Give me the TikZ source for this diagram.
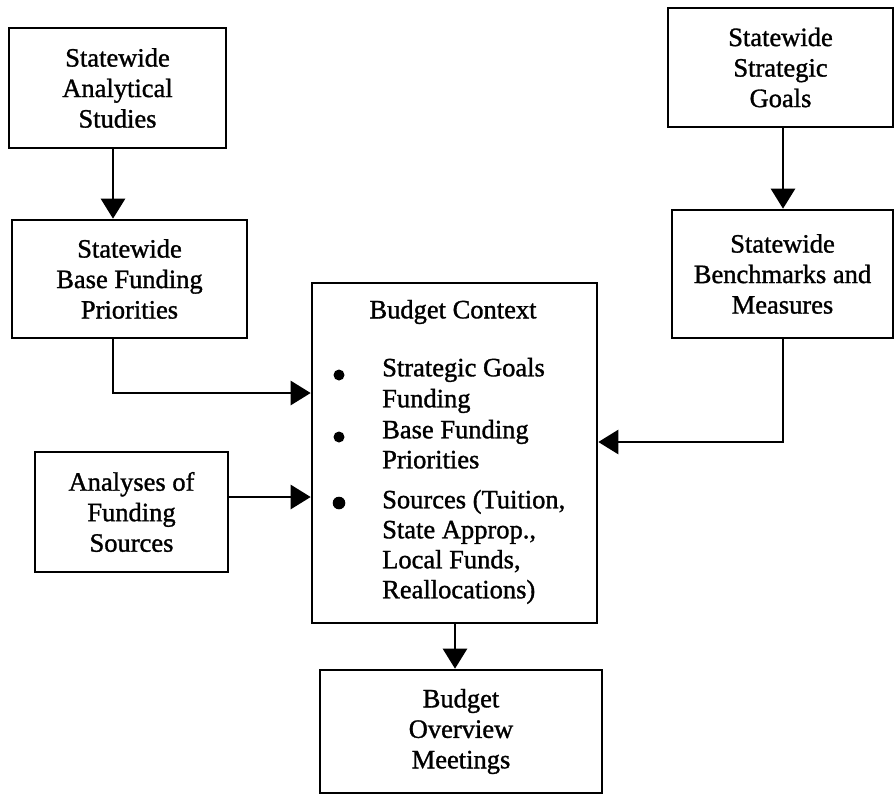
\documentclass[tikz,border=0pt]{standalone}
\usepackage{fontspec}
\setmainfont{Liberation Serif}[FakeBold=1.2]
\usetikzlibrary{arrows.meta}
\begin{document}
\begin{tikzpicture}[x=1pt,y=-1pt,
  box/.style={draw,line width=2.6pt,align=center,inner sep=0pt,
    font=\fontsize{26.5}{30.5}\selectfont},
  txt/.style={inner sep=0pt,anchor=mid west,font=\fontsize{26.5}{30.5}\selectfont},
  arr/.style={line width=2.6pt,-{Triangle[length=20pt,width=24pt]}}]
\useasboundingbox[fill=white] (0,0) rectangle (895,796);

% boxes
\node[box,minimum width=217pt,minimum height=120pt] (sas) at (117.5,88) {Statewide\\Analytical\\Studies};
\node[box,minimum width=235pt,minimum height=118pt] (sbfp) at (129.5,279) {Statewide\\Base Funding\\Priorities};
\node[box,minimum width=225pt,minimum height=119pt] (ssg) at (780.5,67.5) {Statewide\\Strategic\\Goals};
\node[box,minimum width=221pt,minimum height=128pt] (sbm) at (782.5,274) {Statewide\\Benchmarks and\\Measures};
\node[box,minimum width=193pt,minimum height=120pt] (afs) at (131.5,512) {Analyses of\\Funding\\Sources};
\node[box,minimum width=285pt,minimum height=340pt] (ctx) at (454.5,453) {};
\node[box,minimum width=282pt,minimum height=123pt] (bom) at (461,731.5) {Budget\\Overview\\Meetings};

% contents of the budget context box
\node[inner sep=0pt,font=\fontsize{26.5}{30.5}\selectfont] (ctxtitle) at (453,312) {Budget Context};
\fill (339,375) circle (5.5pt) coordinate (bul1);
\fill (339,437) circle (5.5pt) coordinate (bul2);
\fill (339,503) circle (6.3pt) coordinate (bul3);
\node[txt] (l1) at (382,374) {Strategic Goals};
\node[txt] (l2) at (382,405) {Funding};
\node[txt] (l3) at (382,436) {Base Funding};
\node[txt] (l4) at (382,466) {Priorities};
\node[txt] (l5) at (382,506) {Sources (Tuition,};
\node[txt] (l6) at (382,536) {State Approp.,};
\node[txt] (l7) at (382,566) {Local Funds,};
\node[txt] (l8) at (382,596) {Reallocations)};

% routing columns and rows
\coordinate (colA) at (113,0);
\coordinate (colB) at (783,0);
\coordinate (colC) at (455,0);
\coordinate (rowA) at (0,393);
\coordinate (rowB) at (0,497);
\coordinate (rowC) at (0,442);

% connectors
\draw[arr] (colA |- sas.south) -- (colA |- sbfp.north);
\draw[arr] (colA |- sbfp.south) -- (colA |- rowA) -- (ctx.west |- rowA);
\draw[arr] (afs.east |- rowB) -- (ctx.west |- rowB);
\draw[arr] (colB |- ssg.south) -- (colB |- sbm.north);
\draw[arr] (colB |- sbm.south) -- (colB |- rowC) -- (ctx.east |- rowC);
\draw[arr] (colC |- ctx.south) -- (colC |- bom.north);
\end{tikzpicture}
\end{document}
